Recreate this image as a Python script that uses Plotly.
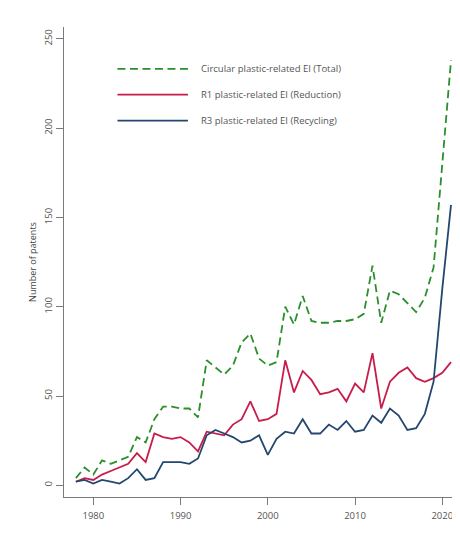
import plotly.graph_objects as go

years = list(range(1978, 2022))
total = [4, 10, 6, 14, 12, 14, 16, 27, 24, 37, 44, 44, 43, 43, 38, 70, 66, 62, 67, 80,
         85, 71, 67, 69, 100, 90, 106, 92, 91, 91, 92, 92, 93, 96, 123, 91, 109, 107,
         102, 97, 105, 122, 180, 238]
reduction = [2, 4, 3, 6, 8, 10, 12, 18, 13, 29, 27, 26, 27, 24, 19, 30, 29, 28, 34, 37,
             47, 36, 37, 40, 70, 52, 64, 59, 51, 52, 54, 47, 57, 52, 74, 43, 58, 63,
             66, 60, 58, 60, 63, 69]
recycling = [2, 3, 1, 3, 2, 1, 4, 9, 3, 4, 13, 13, 13, 12, 15, 28, 31, 29, 27, 24,
             25, 28, 17, 26, 30, 29, 37, 29, 29, 34, 31, 36, 30, 31, 39, 35, 43, 39,
             31, 32, 40, 58, 110, 157]

names = ["Circular plastic-related EI (Total)",
         "R1 plastic-related EI (Reduction)",
         "R3 plastic-related EI (Recycling)"]
colors = ["#2b8f2b", "#c81d4b", "#23476f"]
dashes = ["8px,4.5px", "solid", "solid"]
series = [total, reduction, recycling]

x_ticks = [1980, 1990, 2000, 2010, 2020]
y_ticks = [0, 50, 100, 150, 200, 250]

fig = go.Figure()
for s, n, c, d in zip(series, names, colors, dashes):
    fig.add_trace(go.Scatter(x=years, y=s, mode="lines", name=n,
                             line=dict(color=c, width=1.8, dash=d),
                             showlegend=False))

# manual legend (long line samples like the original)
leg_y = [0.911, 0.856, 0.801]
for i, (n, c, d) in enumerate(zip(names, colors, dashes)):
    fig.add_shape(type="line", xref="paper", yref="paper",
                  x0=0.135, x1=0.313, y0=leg_y[i], y1=leg_y[i],
                  line=dict(color=c, width=1.8, dash=d))
    fig.add_annotation(xref="paper", yref="paper", x=0.34, y=leg_y[i],
                       text=n, showarrow=False, xanchor="left", yanchor="middle",
                       font=dict(size=9.5, color="#555555", family="Open Sans"))

axis_common = dict(showline=True, linecolor="#7a7a7a", linewidth=1.2,
                   ticks="outside", tickcolor="#7a7a7a", ticklen=7, tickwidth=1.2,
                   showgrid=False, zeroline=False,
                   tickfont=dict(size=9.5, color="#555555", family="Open Sans"))

# page body has an 8px margin, so the figure is 8px smaller on each side
fig.update_layout(
    width=452, height=530,
    margin=dict(l=56, r=0, t=19, b=41),
    paper_bgcolor="white", plot_bgcolor="white",
    xaxis=dict(range=[1976.64, 2022.03], tickvals=x_ticks, ticklabelstandoff=2,
               **axis_common),
    yaxis=dict(range=[-6.55, 256.6], tickvals=y_ticks, tickangle=-90,
               title=dict(text="Number of patents", standoff=3,
                          font=dict(size=9, color="#444444", family="Open Sans")),
               **axis_common),
)

fig.write_html("out.html")
